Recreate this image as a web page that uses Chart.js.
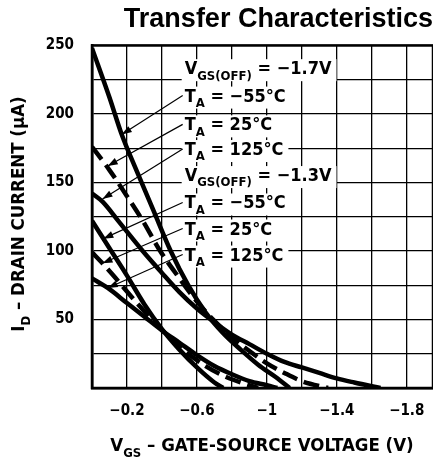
<!DOCTYPE html>
<html>
<head>
<meta charset="utf-8">
<script src="https://cdn.jsdelivr.net/npm/chart.js@4.4.0/dist/chart.umd.min.js"></script>
<style>
  body { margin: 0; background: #fff; }
  #wrap { width: 433px; height: 462px; }
</style>
</head>
<body>
<div id="wrap"><canvas id="chart"></canvas></div>
<script>
// V_GS(OFF) = -1.7V group
const vA55 = [0, -0.1, -0.17, -0.25, -0.35, -0.45, -0.55, -0.65, -0.75, -0.85, -0.95, -1.05, -1.13];
const iA55 = [248, 212, 185, 160, 130, 100, 75, 55, 40, 28, 17, 8, 0];
const vA25 = [0, -0.1, -0.2, -0.3, -0.38, -0.5, -0.6, -0.7, -0.8, -0.9, -1.0, -1.1, -1.2, -1.35];
const iA25 = [176, 159, 140, 120, 102, 80, 63, 49, 37, 27, 18, 11, 5, 0];
const vA125 = [0, -0.06, -0.15, -0.29, -0.4, -0.5, -0.6, -0.7, -0.8, -0.9, -1.0, -1.1, -1.2, -1.3, -1.4, -1.5, -1.65];
const iA125 = [142, 136, 122, 100, 84, 70, 58, 48, 39, 32, 25, 19, 15, 11, 7, 4, 0];

// V_GS(OFF) = -1.3V group
const vB55 = [0, -0.1, -0.2, -0.3, -0.4, -0.5, -0.6, -0.7, -0.75];
const iB55 = [122, 102, 82, 61, 43, 28, 15, 4, 0];
const vB25 = [0, -0.06, -0.15, -0.25, -0.35, -0.45, -0.55, -0.65, -0.75, -0.85, -0.95];
const iB25 = [99, 91, 78, 63, 49, 36, 25, 16, 9, 4, 0];
const vB125 = [0, -0.09, -0.2, -0.3, -0.4, -0.5, -0.6, -0.7, -0.8, -0.9, -1.0, -1.06];
const iB125 = [80, 73, 62, 52, 42, 33, 24, 16, 10, 5, 2, 0];

const xLabels = [-0.2, -0.6, -1, -1.4, -1.8];
const yLabels = [50, 100, 150, 200, 250];

// annotation text, [subscript] marks
const noteText = [
  'V[GS(OFF)] = \u22121.7V',
  'T[A] = \u221255\u00b0C',
  'T[A] = 25\u00b0C',
  'T[A] = 125\u00b0C',
  'V[GS(OFF)] = \u22121.3V',
  'T[A] = \u221255\u00b0C',
  'T[A] = 25\u00b0C',
  'T[A] = 125\u00b0C'
];
const noteV = -0.53;
const noteI = [229, 209, 188, 170, 151, 131, 112, 93];
// arrows: label row index -> point on curve
const arrowRow = [1, 2, 3, 5, 6, 7];
const arrowTipV = [-0.17, -0.09, -0.06, -0.065, -0.06, -0.09];
const arrowTipI = [185, 162, 138, 109, 91, 73];

const FONT = "'Liberation Sans Narrow', 'DejaVu Sans Condensed', 'Liberation Sans', sans-serif";

function pts(v, i) {
    return v.map((x, k) => ({ x: x, y: i[k] }));
}

function parseRich(s) {
    const parts = [];
    const re = /\[([^\]]*)\]|([^\[]+)/g;
    let m;
    while ((m = re.exec(s))) {
        if (m[1] !== undefined) parts.push({ t: m[1], sub: true });
        else parts.push({ t: m[2], sub: false });
    }
    return parts;
}

function richWidth(ctx, s, size) {
    let w = 0;
    parseRich(s).forEach(p => {
        ctx.font = 'bold ' + (p.sub ? Math.round(size * 0.72) : size) + 'px ' + FONT;
        w += ctx.measureText(p.t).width;
    });
    return w;
}

function drawRich(ctx, s, x, y, size) {
    let cx = x;
    parseRich(s).forEach(p => {
        ctx.font = 'bold ' + (p.sub ? Math.round(size * 0.72) : size) + 'px ' + FONT;
        ctx.fillText(p.t, cx, y + (p.sub ? size * 0.3 : 0));
        cx += ctx.measureText(p.t).width;
    });
}

const notesPlugin = {
    id: 'notes',
    afterDatasetsDraw(chart) {
        const ctx = chart.ctx;
        const xs = chart.scales.x, ys = chart.scales.y;
        const a = chart.chartArea;
        ctx.save();

        // frame
        ctx.strokeStyle = '#000';
        ctx.lineWidth = 2.5;
        ctx.strokeRect(a.left, a.top, a.right - a.left, a.bottom - a.top);

        ctx.textBaseline = 'alphabetic';
        ctx.fillStyle = '#000';
        const size = 18;
        const left = xs.getPixelForValue(noteV);
        noteText.forEach((t, k) => {
            const y = ys.getPixelForValue(noteI[k]);
            const w = richWidth(ctx, t, size);
            ctx.fillStyle = '#fff';
            ctx.fillRect(left - 3, y - 15, w + 8, 22);
            ctx.fillStyle = '#000';
            drawRich(ctx, t, left, y, size);
        });

        // arrows
        ctx.lineWidth = 1.2;
        arrowRow.forEach((r, k) => {
            const x0 = left - 2;
            const y0 = ys.getPixelForValue(noteI[r]) - 6;
            const x1 = xs.getPixelForValue(arrowTipV[k]);
            const y1 = ys.getPixelForValue(arrowTipI[k]);
            ctx.beginPath();
            ctx.moveTo(x0, y0);
            ctx.lineTo(x1, y1);
            ctx.stroke();
            const ang = Math.atan2(y1 - y0, x1 - x0);
            const L = 10, W = 3.5;
            ctx.beginPath();
            ctx.moveTo(x1, y1);
            ctx.lineTo(x1 - L * Math.cos(ang) + W * Math.sin(ang), y1 - L * Math.sin(ang) - W * Math.cos(ang));
            ctx.lineTo(x1 - L * Math.cos(ang) - W * Math.sin(ang), y1 - L * Math.sin(ang) + W * Math.cos(ang));
            ctx.closePath();
            ctx.fill();
        });

        // axis titles
        const xt = 'V[GS] \u2013 GATE-SOURCE VOLTAGE (V)';
        const xw = richWidth(ctx, xt, 18.5);
        drawRich(ctx, xt, 262 - xw / 2, 451, 18.5);

        const yt = 'I[D] \u2013 DRAIN CURRENT (\u00b5A)';
        const yw = richWidth(ctx, yt, 18.5);
        ctx.translate(24, 214);
        ctx.rotate(-Math.PI / 2);
        drawRich(ctx, yt, -yw / 2, 0, 18.5);
        ctx.restore();
    }
};

function curve(v, i, dash) {
    return {
        data: pts(v, i),
        borderColor: '#000',
        borderWidth: 4.5,
        borderDash: dash || [],
        pointRadius: 0,
        fill: false,
        cubicInterpolationMode: 'monotone'
    };
}

const tickFont = { family: FONT, size: 15, weight: 'bold' };
const fmt = v => (v < 0 ? '\u2212' + String(Math.abs(v)) : String(v));

new Chart(document.getElementById('chart').getContext('2d'), {
    type: 'line',
    data: {
        datasets: [
            curve(vA55, iA55),
            curve(vA25, iA25, [16, 7]),
            curve(vA125, iA125),
            curve(vB55, iB55),
            curve(vB25, iB25, [16, 7]),
            curve(vB125, iB125)
        ]
    },
    options: {
        responsive: true,
        maintainAspectRatio: false,
        animation: false,
        layout: { padding: { left: 0, right: 0, top: 0, bottom: 0 } },
        plugins: {
            legend: { display: false },
            tooltip: { enabled: false },
            title: {
                display: true,
                text: 'Transfer Characteristics',
                align: 'end',
                color: '#000',
                font: { family: "'Liberation Sans', Arial, sans-serif", size: 27, weight: 'bold' },
                padding: { top: 3, bottom: 10 }
            }
        },
        scales: {
            x: {
                type: 'linear',
                min: -1.95,
                max: 0,
                reverse: true,
                afterFit: s => { s.height = 74; s.paddingRight = 0; s.paddingLeft = 0; },
                afterBuildTicks: s => {
                    const t = [];
                    for (let k = 0; k <= 9; k++) t.push({ value: -k * 0.2 });
                    s.ticks = t;
                },
                grid: { color: '#000', lineWidth: 1.3, drawTicks: false },
                border: { display: true, color: '#000', width: 2.5 },
                ticks: {
                    color: '#000',
                    font: tickFont,
                    padding: 14,
                    maxRotation: 0,
                    autoSkip: false,
                    callback: v => {
                        const r = Math.round(v * 10) / 10;
                        return xLabels.includes(r) ? fmt(r) : '';
                    }
                }
            },
            y: {
                min: 0,
                max: 250,
                afterFit: s => { s.width = 92; },
                grid: { color: '#000', lineWidth: 1.3, drawTicks: false },
                border: { display: true, color: '#000', width: 2.5 },
                ticks: {
                    stepSize: 25,
                    color: '#000',
                    font: tickFont,
                    padding: 18,
                    callback: v => (yLabels.includes(v) ? String(v) : '')
                }
            }
        }
    },
    plugins: [notesPlugin]
});
</script>
</body>
</html>
